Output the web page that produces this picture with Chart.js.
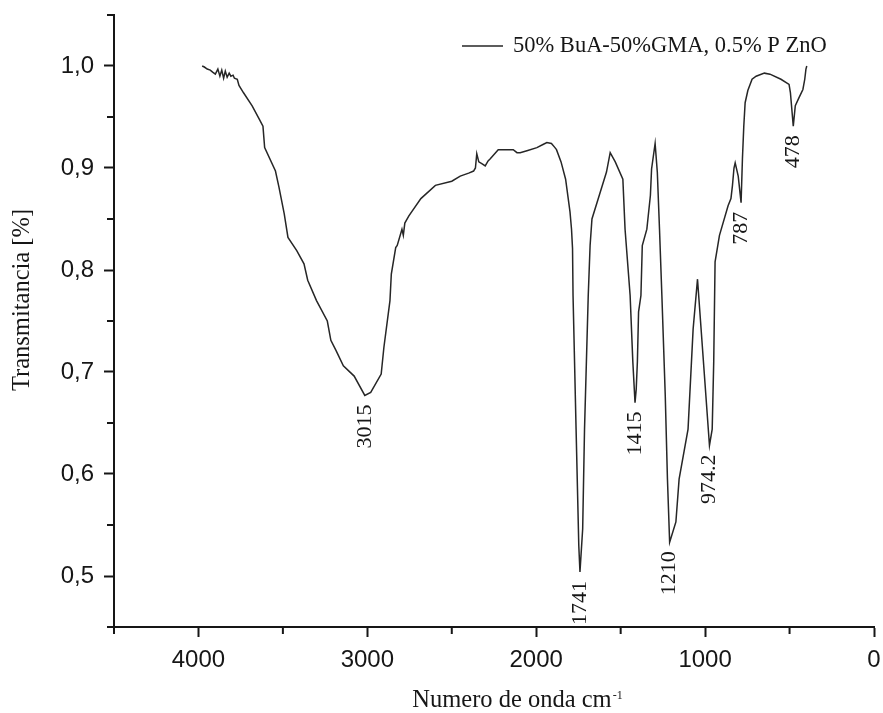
<!DOCTYPE html>
<html>
<head>
<meta charset="utf-8">
<title>FTIR</title>
<script src="https://cdn.jsdelivr.net/npm/chart.js@4.4.1/dist/chart.umd.min.js"></script>
<style>
  html, body { margin: 0; padding: 0; background: #fff; }
</style>
</head>
<body>
<canvas id="ftir" width="883" height="713"></canvas>
<script>
// FTIR spectrum, 50% BuA - 50% GMA copolymer with 0.5% ZnO
const seriesLabel = '50% BuA-50%GMA, 0.5% P ZnO';
const xTitle = 'Numero de onda cm';
const xTitleSup = '-1';
const yTitle = 'Transmitancia [%]';

// wavenumber in cm-1, descending
const wavenumber = [
  3978, 3965, 3948, 3930, 3916, 3900, 3885, 3873, 3862, 3851,
  3841, 3830, 3818, 3808, 3795, 3787, 3770, 3760, 3734, 3682,
  3640, 3618, 3608, 3544, 3523, 3492, 3470, 3418, 3375, 3353,
  3301, 3237, 3216, 3185, 3142, 3078, 3015, 2980, 2918, 2902,
  2866, 2858, 2832, 2823, 2795, 2787, 2778, 2754, 2683, 2597,
  2500, 2450, 2400, 2371, 2360, 2352, 2340, 2320, 2302, 2285,
  2272, 2225, 2180, 2136, 2114, 2095, 2055, 1996, 1960, 1937,
  1910, 1889, 1880, 1853, 1826, 1800, 1791, 1785, 1782, 1764,
  1748, 1741, 1725, 1714, 1692, 1681, 1670, 1627, 1584, 1562,
  1532, 1487, 1474, 1444, 1428, 1415, 1408, 1401, 1394, 1380,
  1372, 1345, 1324, 1317, 1296, 1283, 1270, 1256, 1236, 1223,
  1210, 1173, 1154, 1101, 1071, 1045, 974.2, 958, 949, 941,
  915, 864, 847, 838, 829, 822, 804, 787, 779, 771,
  763, 747, 722, 698, 649, 616, 551, 503, 495, 478,
  466, 444, 421, 410, 403, 398
];

const transmittance = [
  1.000, 0.999, 0.997, 0.996, 0.994, 0.992, 0.997, 0.990, 0.996, 0.988,
  0.995, 0.989, 0.993, 0.990, 0.991, 0.988, 0.987, 0.981, 0.974, 0.961,
  0.948, 0.941, 0.920, 0.897, 0.881, 0.855, 0.832, 0.819, 0.806, 0.790,
  0.770, 0.750, 0.731, 0.721, 0.706, 0.696, 0.677, 0.680, 0.698, 0.724,
  0.770, 0.796, 0.822, 0.824, 0.840, 0.834, 0.846, 0.853, 0.870, 0.883,
  0.887, 0.892, 0.895, 0.897, 0.900, 0.914, 0.906, 0.904, 0.902, 0.907,
  0.909, 0.918, 0.918, 0.918, 0.915, 0.915, 0.917, 0.920, 0.923, 0.925,
  0.924, 0.920, 0.918, 0.906, 0.889, 0.857, 0.840, 0.821, 0.775, 0.644,
  0.530, 0.504, 0.546, 0.644, 0.775, 0.824, 0.850, 0.873, 0.896, 0.915,
  0.906, 0.889, 0.840, 0.775, 0.710, 0.670, 0.683, 0.710, 0.759, 0.775,
  0.824, 0.840, 0.873, 0.899, 0.924, 0.896, 0.840, 0.775, 0.677, 0.595,
  0.533, 0.553, 0.595, 0.644, 0.742, 0.791, 0.628, 0.644, 0.710, 0.808,
  0.834, 0.863, 0.870, 0.883, 0.900, 0.905, 0.892, 0.866, 0.909, 0.941,
  0.964, 0.976, 0.987, 0.990, 0.993, 0.992, 0.987, 0.982, 0.974, 0.941,
  0.961, 0.969, 0.977, 0.987, 0.997, 1.000
];

// annotated absorption bands
const peakWavenumber = [3015, 1741, 1415, 1210, 974.2, 787, 478];

const serif = '"Liberation Serif", "Times New Roman", serif';
const sans = '"Liberation Sans", Arial, sans-serif';
const ink = '#161616';

const isMajorX = v => Math.round(v) % 1000 === 0;
const isMajorY = v => Math.round(v * 100) % 10 === 0;

// keep tick label overflow from moving the plot edges
const noOverflow = scale => {
  scale.paddingLeft = 0;
  scale.paddingRight = 0;
  scale.paddingTop = 0;
  scale.paddingBottom = 0;
};

const extras = {
  id: 'extras',
  afterDraw(chart) {
    const { ctx, chartArea, scales: { x, y } } = chart;
    ctx.save();

    // short minor ticks
    ctx.strokeStyle = ink;
    ctx.lineWidth = 2;
    ctx.beginPath();
    x.ticks.forEach(t => {
      if (isMajorX(t.value)) return;
      const px = x.getPixelForValue(t.value);
      ctx.moveTo(px, chartArea.bottom);
      ctx.lineTo(px, chartArea.bottom + 7);
    });
    y.ticks.forEach(t => {
      if (isMajorY(t.value)) return;
      const py = y.getPixelForValue(t.value);
      ctx.moveTo(chartArea.left, py);
      ctx.lineTo(chartArea.left - 7, py);
    });
    ctx.stroke();

    // band labels, written upward under each minimum
    ctx.fillStyle = ink;
    ctx.font = '22px ' + serif;
    ctx.textAlign = 'right';
    ctx.textBaseline = 'middle';
    peakWavenumber.forEach(p => {
      const i = wavenumber.indexOf(p);
      const px = x.getPixelForValue(p);
      const py = y.getPixelForValue(transmittance[i]) + 9;
      ctx.save();
      ctx.translate(px, py);
      ctx.rotate(-Math.PI / 2);
      ctx.fillText(String(p), 0, 0);
      ctx.restore();
    });

    // legend inside the plot, top right
    const ds = chart.data.datasets[0];
    const ly = chartArea.top + 31;
    const lx = chartArea.right - 412;
    ctx.strokeStyle = ds.borderColor;
    ctx.lineWidth = 1.4;
    ctx.beginPath();
    ctx.moveTo(lx, ly);
    ctx.lineTo(lx + 41, ly);
    ctx.stroke();
    ctx.font = '22.5px ' + serif;
    ctx.textAlign = 'left';
    ctx.fillText(ds.label, lx + 51, ly);

    // y axis title
    ctx.font = '24.5px ' + serif;
    ctx.textAlign = 'center';
    ctx.save();
    ctx.translate(23, (chartArea.top + chartArea.bottom) / 2 - 21);
    ctx.rotate(-Math.PI / 2);
    ctx.fillText(yTitle, 0, 0);
    ctx.restore();

    // x axis title with superscript unit
    ctx.textAlign = 'left';
    ctx.textBaseline = 'alphabetic';
    ctx.font = '24.5px ' + serif;
    const w1 = ctx.measureText(xTitle).width;
    ctx.font = '12px ' + serif;
    const w2 = ctx.measureText(xTitleSup).width;
    const tx = (chartArea.left + chartArea.right) / 2 + 23 - (w1 + w2) / 2;
    const ty = 707;
    ctx.font = '24.5px ' + serif;
    ctx.fillText(xTitle, tx, ty);
    ctx.font = '12px ' + serif;
    ctx.fillText(xTitleSup, tx + w1 + 1, ty - 8);

    ctx.restore();
  }
};

new Chart(document.getElementById('ftir'), {
  type: 'line',
  data: {
    datasets: [{
      label: seriesLabel,
      data: wavenumber.map((w, i) => ({ x: w, y: transmittance[i] })),
      borderColor: '#262626',
      borderWidth: 1.5,
      pointRadius: 0,
      tension: 0,
      fill: false
    }]
  },
  options: {
    responsive: false,
    animation: false,
    layout: { padding: { top: 15, right: 9, left: 0, bottom: 0 } },
    plugins: {
      legend: { display: false },
      tooltip: { enabled: false }
    },
    scales: {
      x: {
        type: 'linear',
        reverse: true,
        min: 0,
        max: 4500,
        afterFit: scale => { scale.height = 86; noOverflow(scale); },
        border: { display: true, color: ink, width: 2 },
        grid: {
          drawOnChartArea: false,
          tickLength: 10,
          tickWidth: 2,
          tickColor: c => (c.tick && isMajorX(c.tick.value)) ? ink : 'rgba(0,0,0,0)'
        },
        ticks: {
          stepSize: 500,
          autoSkip: false,
          maxRotation: 0,
          padding: 9,
          color: ink,
          font: { family: sans, size: 24 },
          callback: v => isMajorX(v) ? String(v) : ''
        }
      },
      y: {
        min: 0.45,
        max: 1.05,
        afterFit: scale => { scale.width = 114; noOverflow(scale); },
        border: { display: true, color: ink, width: 2 },
        grid: {
          drawOnChartArea: false,
          tickLength: 10,
          tickWidth: 2,
          tickColor: c => (c.tick && isMajorY(c.tick.value)) ? ink : 'rgba(0,0,0,0)'
        },
        ticks: {
          stepSize: 0.05,
          maxTicksLimit: 20,
          autoSkip: false,
          padding: 10,
          color: ink,
          font: { family: sans, size: 24 },
          callback: v => isMajorY(v) ? v.toFixed(1).replace('.', ',') : ''
        }
      }
    }
  },
  plugins: [extras]
});
</script>
</body>
</html>
